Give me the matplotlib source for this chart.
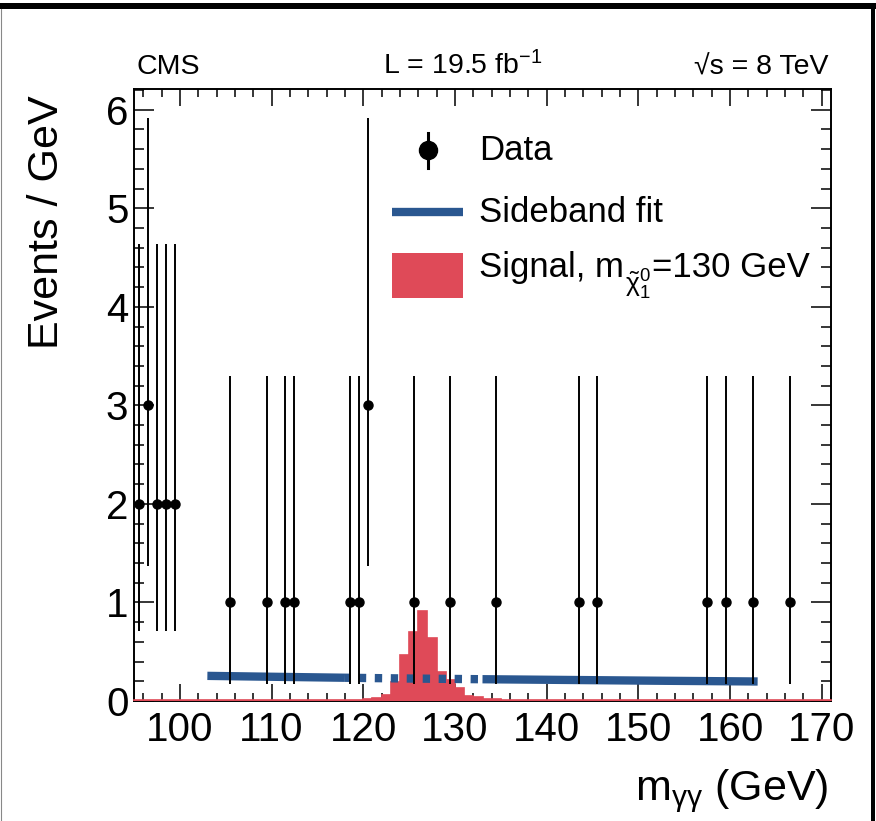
import matplotlib
matplotlib.use("Agg")
import matplotlib.pyplot as plt
import numpy as np
from matplotlib.ticker import MultipleLocator
from matplotlib.lines import Line2D
from matplotlib.patches import Rectangle
from matplotlib.transforms import IdentityTransform

plt.rcParams["font.family"] = ["Liberation Sans", "DejaVu Sans"]
plt.rcParams["mathtext.fontset"] = "custom"
plt.rcParams["mathtext.rm"] = "Liberation Sans"
plt.rcParams["mathtext.it"] = "Liberation Sans:italic"
plt.rcParams["mathtext.default"] = "regular"
plt.rcParams["lines.scale_dashes"] = False

# ---- observed diphoton events (1 GeV bins) ----
data_mass = [95.5, 96.5, 97.5, 98.5, 99.5, 105.5, 109.5, 111.5, 112.5, 118.5,
             119.5, 120.5, 125.5, 129.5, 134.5, 143.5, 145.5, 157.5, 159.5,
             162.5, 166.5]
data_counts = [2, 3, 2, 2, 2, 1, 1, 1, 1, 1,
               1, 3, 1, 1, 1, 1, 1, 1, 1,
               1, 1]
# Poisson confidence interval bounds per observed count
interval_low = {1: 0.17, 2: 0.71, 3: 1.37}
interval_high = {1: 3.30, 2: 4.64, 3: 5.92}

# ---- sideband fit ----
fit_mass = [103, 110, 118, 125, 133, 143, 153, 163]
fit_value = [0.255, 0.246, 0.236, 0.228, 0.221, 0.213, 0.205, 0.198]
blind_low, blind_high = 118, 133

# ---- signal template, m(chi) = 130 GeV ----
signal_edges = list(range(95, 172))
signal_values = (
    [0.006] * 20          # 95-115
    + [0.008] * 3         # 115-118
    + [0.010, 0.012]      # 118-120
    + [0.018, 0.035]      # 120-122
    + [0.059, 0.188, 0.464, 0.700, 0.910, 0.640, 0.295, 0.211, 0.127,
       0.049, 0.042, 0.025]  # 122-134
    + [0.016, 0.014]      # 134-136
    + [0.010] * 4         # 136-140
    + [0.008] * 10        # 140-150
    + [0.006] * 21        # 150-171
)

x_ticks = [100, 110, 120, 130, 140, 150, 160, 170]
y_ticks = [0, 1, 2, 3, 4, 5, 6]

RED = "#df4a58"
BLUE = "#2a5790"

W, H = 876, 821
fig = plt.figure(figsize=(W / 100, H / 100), dpi=100)
ax_l, ax_r, ax_t, ax_b = 134, 831, 89, 701
ax = fig.add_axes([ax_l / W, 1 - ax_b / H, (ax_r - ax_l) / W, (ax_b - ax_t) / H])
ax.set_xlim(95, 171)
ax.set_ylim(0, 6.21)

# signal histogram
ax.stairs(signal_values, signal_edges, fill=True, facecolor=RED,
          edgecolor=RED, linewidth=1.2, zorder=3, clip_on=False)

# sideband fit: solid outside the blinded window, dashed inside
fm = np.array(fit_mass)
fv = np.array(fit_value)
left = fm <= blind_low
mid = (fm >= blind_low) & (fm <= blind_high)
right = fm >= blind_high
ax.plot(fm[left], fv[left], color=BLUE, lw=6, solid_capstyle="butt", zorder=4)
ax.plot(fm[right], fv[right], color=BLUE, lw=6, solid_capstyle="butt", zorder=4)
ax.plot(fm[mid], fv[mid], color=BLUE, lw=6, linestyle=(1.5, (5.3, 6.2)),
        dash_capstyle="butt", zorder=4)

# data with asymmetric Poisson errors
counts = np.array(data_counts)
err_lo = np.array([c - interval_low[c] for c in data_counts])
err_hi = np.array([interval_high[c] - c for c in data_counts])
ax.errorbar(data_mass, counts, yerr=[err_lo, err_hi], fmt="o", color="black",
            ms=6.5, elinewidth=1.4, capsize=0, zorder=6)

# axes styling
ax.set_xticks(x_ticks)
ax.set_yticks(y_ticks)
ax.xaxis.set_minor_locator(MultipleLocator(2))
ax.yaxis.set_minor_locator(MultipleLocator(0.2))
ax.tick_params(which="both", direction="in", top=True, right=True, width=1.1)
ax.tick_params(axis="x", which="major", length=12.5, pad=7, labelsize=29)
ax.tick_params(axis="x", which="minor", length=6)
ax.tick_params(axis="y", which="major", length=14.5, pad=4, labelsize=29)
ax.tick_params(axis="y", which="minor", length=7.5)
for s in ax.spines.values():
    s.set_linewidth(1.4)

# header
ax.text(0.004, 1.014, "CMS", transform=ax.transAxes, ha="left", va="bottom",
        fontsize=20.5)
ax.text(0.357, 1.014, r"L = 19.5 fb$^{-1}$", transform=ax.transAxes,
        ha="left", va="bottom", fontsize=20.5)
ax.text(0.996, 1.014, "√s = 8 TeV", transform=ax.transAxes,
        ha="right", va="bottom", fontsize=20.5,
        family=["Liberation Sans", "DejaVu Sans"])

# axis titles
fig.text(47 / W, 1 - 95 / H, "Events / GeV", rotation=90, ha="center",
         va="top", fontsize=31)
fig.text(828 / W, 1 - 800 / H, r"m$_{\gamma\gamma}$ (GeV)", ha="right",
         va="baseline", fontsize=31)


# legend
def axf(px, py):
    return (px - ax_l) / (ax_r - ax_l), (ax_b - py) / (ax_b - ax_t)


mx, my = axf(428, 150)
_, y0 = axf(428, 133)
_, y1 = axf(428, 168)
ax.add_line(Line2D([mx, mx], [y0, y1], transform=ax.transAxes, color="black",
                   lw=2.2, zorder=7))
ax.add_line(Line2D([mx], [my], transform=ax.transAxes, marker="o", ms=13,
                   color="black", zorder=7))
tx, ty = axf(479, 150)
ax.text(tx, ty, "Data", transform=ax.transAxes, ha="left", va="center",
        fontsize=25)

lx0, ly = axf(392, 212)
lx1, _ = axf(463, 212)
ax.add_line(Line2D([lx0, lx1], [ly, ly], transform=ax.transAxes, color=BLUE,
                   lw=6, solid_capstyle="butt", zorder=7))
tx, ty = axf(479, 212)
ax.text(tx, ty, "Sideband fit", transform=ax.transAxes, ha="left",
        va="center", fontsize=25)

rx0, ry0 = axf(392, 298)
rx1, ry1 = axf(463, 253)
ax.add_patch(Rectangle((rx0, ry0), rx1 - rx0, ry1 - ry0, transform=ax.transAxes,
                       facecolor=RED, edgecolor="none", zorder=7))

# signal label assembled piecewise so the neutralino subscript sits low
renderer = fig.canvas.get_renderer()
base_y = H - 277
t1 = fig.text(479, base_y, "Signal, m", transform=IdentityTransform(),
              ha="left", va="baseline", fontsize=25)
x_sub = t1.get_window_extent(renderer).x1 + 1
t2 = fig.text(x_sub, base_y - 16, r"$\tilde{\chi}^{0}_{1}$",
              transform=IdentityTransform(), ha="left", va="baseline",
              fontsize=19)
x_rest = t2.get_window_extent(renderer).x1 + 1
fig.text(x_rest, base_y, "=130 GeV", transform=IdentityTransform(),
         ha="left", va="baseline", fontsize=25)

# canvas frame
fig.add_artist(Rectangle((0, 1 - 9 / H), 1, 6 / H, transform=fig.transFigure,
                         facecolor="black", edgecolor="none"))
fig.add_artist(Rectangle((871 / W, 0), 4 / W, 1 - 3 / H,
                         transform=fig.transFigure, facecolor="black",
                         edgecolor="none"))
fig.add_artist(Line2D([0.6 / W, 0.6 / W], [0, 1 - 9 / H],
                      transform=fig.transFigure, color="#888888", lw=0.8))

fig.savefig("out.png", dpi=100)
